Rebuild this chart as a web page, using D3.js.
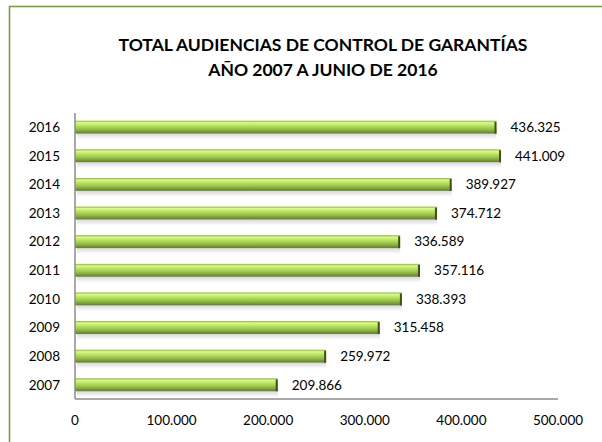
<!DOCTYPE html>
<html>
<head>
<meta charset="utf-8">
<script src="https://cdn.jsdelivr.net/npm/d3@7"></script>
<style>
body { margin: 0; background: #fff; }
text { font-family: Lato, "Open Sans", sans-serif; fill: #000; }
</style>
</head>
<body>
<div id="chart"></div>
<script>
// datos
var years = ["2007", "2008", "2009", "2010", "2011", "2012", "2013", "2014", "2015", "2016"];
var audiencias = [209866, 259972, 315458, 338393, 357116, 336589, 374712, 389927, 441009, 436325];
var ticks = [0, 100000, 200000, 300000, 400000, 500000];
var titleLines = ["TOTAL AUDIENCIAS DE CONTROL DE GARANTÍAS", "AÑO 2007 A JUNIO DE 2016"];

var W = 602, H = 442;
var plotLeft = 75, plotRight = 558, plotTop = 113, plotBottom = 399;

function fmtNum(v) {
	if (v == 0) return "0";
	var s = String(v);
	var out = "";
	while (s.length > 3) {
		out = "." + s.slice(-3) + out;
		s = s.slice(0, -3);
	}
	return s + out;
}

var svg = d3.select("#chart").append("svg")
	.attr("width", W)
	.attr("height", H);

// gradiente de la barra
var defs = svg.append("defs");
var grad = defs.append("linearGradient")
	.attr("id", "barGrad")
	.attr("x1", 0).attr("y1", 0).attr("x2", 0).attr("y2", 1);
grad.append("stop").attr("offset", "0%").attr("stop-color", "#8ab040");
grad.append("stop").attr("offset", "15%").attr("stop-color", "#dcf890");
grad.append("stop").attr("offset", "38%").attr("stop-color", "#b9e262");
grad.append("stop").attr("offset", "65%").attr("stop-color", "#97c04a");
grad.append("stop").attr("offset", "100%").attr("stop-color", "#5f7e26");

var shadow = defs.append("linearGradient")
	.attr("id", "shadowGrad")
	.attr("x1", 0).attr("y1", 0).attr("x2", 0).attr("y2", 1);
shadow.append("stop").attr("offset", "0%").attr("stop-color", "#000").attr("stop-opacity", 0.15);
shadow.append("stop").attr("offset", "100%").attr("stop-color", "#000").attr("stop-opacity", 0);

// borde exterior
svg.append("rect")
	.attr("x", 9.5).attr("y", 6.5)
	.attr("width", W + 20).attr("height", H + 20)
	.style("fill", "none")
	.style("stroke", "#77a03a")
	.style("stroke-width", 1.6);

// titulo
svg.selectAll("text.title")
	.data(titleLines).enter()
	.append("text")
	.attr("class", "title")
	.attr("x", 323)
	.attr("y", function(d, i) {return 51 + i * 25;})
	.attr("text-anchor", "middle")
	.style("font-size", "17.5px")
	.style("font-weight", "bold")
	.text(function(d) {return d;});

var x = d3.scaleLinear().domain([0, 500000]).range([plotLeft, plotRight]);
var y = d3.scaleBand().domain(years.slice().reverse()).range([plotTop, plotBottom]).paddingInner(0.55).paddingOuter(0.27);

var rows = years.map(function(yr, i) {return {year: yr, value: audiencias[i]};});

// sombras
svg.selectAll("rect.shadow")
	.data(rows).enter()
	.append("rect")
	.attr("class", "shadow")
	.attr("x", x(0) + 2)
	.attr("y", function(d) {return y(d.year) + y.bandwidth();})
	.attr("width", function(d) {return x(d.value) - x(0) - 2;})
	.attr("height", 6)
	.style("fill", "url(#shadowGrad)");

// barras
svg.selectAll("rect.bar")
	.data(rows).enter()
	.append("rect")
	.attr("class", "bar")
	.attr("x", x(0))
	.attr("y", function(d) {return y(d.year);})
	.attr("width", function(d) {return x(d.value) - x(0);})
	.attr("height", y.bandwidth())
	.style("fill", "url(#barGrad)");

// extremo oscuro
svg.selectAll("rect.cap")
	.data(rows).enter()
	.append("rect")
	.attr("class", "cap")
	.attr("x", function(d) {return x(d.value) - 2;})
	.attr("y", function(d) {return y(d.year) + 1;})
	.attr("width", 2)
	.attr("height", y.bandwidth() - 1)
	.style("fill", "#3d5214");

// ejes
svg.append("line")
	.attr("x1", plotLeft).attr("x2", plotLeft)
	.attr("y1", plotTop).attr("y2", plotBottom)
	.style("stroke", "#8c8c8c").style("stroke-width", 1.5);
svg.append("line")
	.attr("x1", plotLeft).attr("x2", plotRight)
	.attr("y1", plotBottom).attr("y2", plotBottom)
	.style("stroke", "#8c8c8c").style("stroke-width", 1.5);

// etiquetas de años
svg.selectAll("text.year")
	.data(rows).enter()
	.append("text")
	.attr("class", "year")
	.attr("x", 60)
	.attr("y", function(d) {return y(d.year) + y.bandwidth() / 2;})
	.attr("dy", "0.35em")
	.attr("text-anchor", "end")
	.style("font-size", "13.5px")
	.text(function(d) {return d.year;});

// valores
svg.selectAll("text.val")
	.data(rows).enter()
	.append("text")
	.attr("class", "val")
	.attr("x", function(d) {return x(d.value) + 14;})
	.attr("y", function(d) {return y(d.year) + y.bandwidth() / 2;})
	.attr("dy", "0.35em")
	.style("font-size", "13.5px")
	.text(function(d) {return fmtNum(d.value);});

// ticks eje x
svg.selectAll("text.tick")
	.data(ticks).enter()
	.append("text")
	.attr("class", "tick")
	.attr("x", function(d) {return x(d);})
	.attr("y", 425)
	.attr("text-anchor", "middle")
	.style("font-size", "13.5px")
	.text(function(d) {return fmtNum(d);});
</script>
</body>
</html>
